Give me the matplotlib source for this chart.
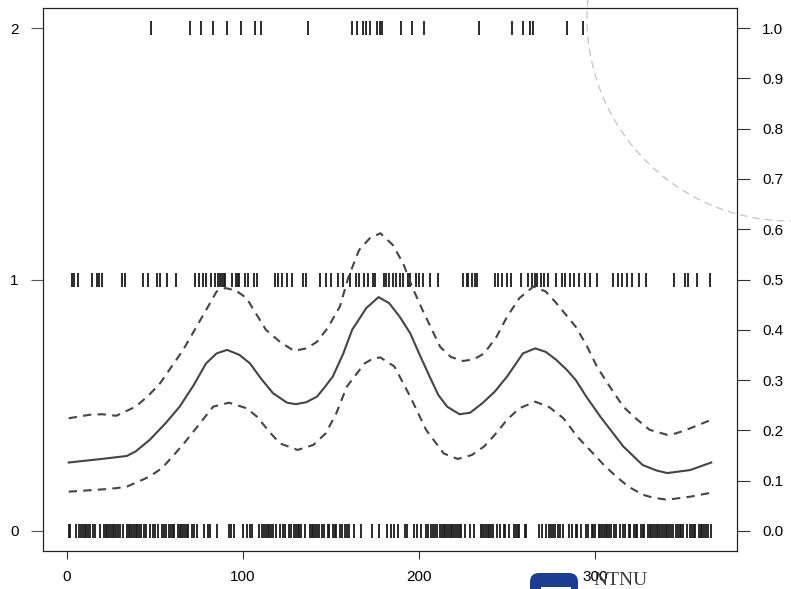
import numpy as np
import matplotlib.pyplot as plt
from matplotlib.patches import Circle, FancyBboxPatch, Rectangle
from matplotlib.transforms import IdentityTransform

plt.rcParams['font.family'] = ['Liberation Sans', 'DejaVu Sans']

# days (1..366) with 0, 1 or 2 rainy years
zero_days = [1, 2, 5, 7, 8, 9, 10, 11, 12, 13, 15, 16, 19, 21, 22, 23, 24, 25, 26, 27,
             28, 29, 30, 32, 34, 35, 36, 37, 38, 39, 40, 41, 42, 44, 45, 47, 49, 50, 52,
             54, 55, 56, 58, 59, 60, 61, 63, 64, 65, 66, 67, 68, 69, 71, 72, 74, 78, 80,
             81, 85, 92, 93, 95, 100, 102, 104, 105, 109, 111, 112, 113, 114, 115, 116,
             117, 119, 121, 123, 124, 126, 127, 129, 130, 131, 132, 133, 135, 138, 139,
             140, 141, 142, 143, 145, 146, 148, 149, 151, 152, 153, 155, 156, 158, 159,
             160, 163, 167, 173, 177, 182, 184, 186, 188, 192, 193, 197, 199, 201, 204,
             205, 207, 208, 209, 210, 212, 213, 214, 215, 216, 217, 218, 219, 220, 221,
             222, 223, 224, 226, 229, 231, 235, 236, 237, 238, 239, 240, 241, 242, 244,
             246, 248, 249, 251, 254, 255, 256, 257, 260, 261, 268, 270, 272, 274, 275,
             276, 277, 279, 280, 282, 285, 287, 289, 290, 292, 295, 296, 298, 299, 300,
             302, 303, 304, 305, 306, 307, 308, 309, 311, 312, 314, 316, 317, 319, 320,
             322, 323, 324, 326, 327, 328, 330, 331, 332, 333, 334, 335, 336, 337, 338,
             339, 340, 341, 342, 343, 344, 346, 347, 348, 349, 350, 352, 354, 355, 356,
             357, 359, 360, 361, 362, 363, 364, 366]
one_days = [3, 4, 6, 14, 17, 18, 20, 31, 33, 43, 46, 51, 53, 57, 62, 73, 75, 77, 79, 82,
            84, 86, 87, 88, 89, 90, 94, 96, 97, 98, 101, 103, 106, 108, 118, 120, 122,
            125, 128, 134, 136, 144, 147, 150, 154, 157, 161, 164, 166, 169, 171, 174,
            175, 180, 181, 183, 185, 187, 189, 191, 194, 195, 198, 200, 202, 206, 211,
            225, 227, 228, 230, 232, 233, 243, 245, 247, 250, 252, 258, 262, 264, 266,
            267, 269, 271, 273, 278, 281, 283, 286, 288, 291, 294, 297, 301, 310, 313,
            315, 318, 321, 325, 329, 345, 351, 353, 358, 365]
two_days = [48, 70, 76, 83, 91, 99, 107, 110, 137, 162, 165, 168, 170, 172, 176, 178,
            179, 190, 196, 203, 234, 253, 259, 263, 265, 284, 293]

# fitted probability and band
fit_days = [1, 22, 34, 39, 47, 56, 64, 72, 79, 85, 91, 98, 104, 110, 117, 125, 130, 136,
            142, 146, 151, 157, 162, 170, 177, 183, 189, 195, 200, 206, 211, 216, 223,
            229, 236, 243, 250, 259, 266, 272, 278, 284, 289, 295, 303, 316, 327, 335,
            341, 354, 366]
fit = [0.136, 0.144, 0.149, 0.158, 0.181, 0.214, 0.247, 0.290, 0.333, 0.353, 0.360,
       0.350, 0.333, 0.304, 0.274, 0.255, 0.252, 0.256, 0.267, 0.284, 0.307, 0.353,
       0.400, 0.443, 0.465, 0.453, 0.426, 0.393, 0.353, 0.307, 0.270, 0.247, 0.232,
       0.235, 0.254, 0.277, 0.307, 0.353, 0.363, 0.356, 0.340, 0.320, 0.300, 0.267,
       0.227, 0.168, 0.131, 0.120, 0.115, 0.121, 0.136]

upper_days = [1, 13, 20, 28, 39, 46, 53, 66, 79, 85, 90, 96, 102, 113, 121, 129, 136,
              142, 148, 155, 160, 166, 172, 178, 185, 191, 196, 202, 212, 218, 225, 231,
              237, 244, 250, 257, 265, 272, 278, 289, 295, 301, 307, 316, 324, 331, 341,
              346, 354, 366]
upper = [0.224, 0.231, 0.232, 0.229, 0.247, 0.268, 0.294, 0.360, 0.439, 0.476, 0.483,
         0.478, 0.463, 0.400, 0.376, 0.358, 0.363, 0.376, 0.403, 0.446, 0.506, 0.559,
         0.582, 0.592, 0.569, 0.532, 0.486, 0.439, 0.366, 0.346, 0.338, 0.341, 0.353,
         0.386, 0.426, 0.463, 0.486, 0.476, 0.453, 0.406, 0.370, 0.327, 0.294, 0.247,
         0.221, 0.201, 0.191, 0.194, 0.204, 0.221]

lower_days = [1, 22, 28, 34, 47, 54, 60, 66, 74, 83, 92, 102, 108, 115, 121, 131, 140,
              147, 153, 159, 169, 174, 178, 186, 195, 204, 214, 222, 230, 237, 243, 250,
              257, 266, 274, 282, 290, 297, 305, 312, 319, 327, 333, 341, 354, 366]
lower = [0.078, 0.083, 0.085, 0.088, 0.108, 0.125, 0.148, 0.172, 0.207, 0.247, 0.255,
         0.244, 0.227, 0.197, 0.174, 0.161, 0.171, 0.194, 0.234, 0.287, 0.333, 0.343,
         0.345, 0.327, 0.267, 0.201, 0.154, 0.143, 0.151, 0.168, 0.191, 0.221, 0.244,
         0.257, 0.246, 0.224, 0.187, 0.161, 0.131, 0.108, 0.088, 0.072, 0.066, 0.062,
         0.068, 0.076]

left_ticks = [0, 1, 2]
right_ticks = [0.0, 0.1, 0.2, 0.3, 0.4, 0.5, 0.6, 0.7, 0.8, 0.9, 1.0]
x_ticks = [0, 100, 200, 300]

W, H = 791, 589
fig = plt.figure(figsize=(W / 100, H / 100), dpi=100)
ax = fig.add_axes([43 / W, 1 - 551 / H, (737 - 43) / W, (551 - 8) / H])
ax.set_xlim(-13.6, 380.6)
ax.set_ylim(-0.08, 2.08)

rug_col = '#1a1a1a'
for days, level in [(zero_days, 0), (one_days, 1), (two_days, 2)]:
    ax.plot(days, [level] * len(days), ls='none', marker='|', ms=10, mew=1.3,
            color=rug_col)

ax2 = ax.twinx()
ax2.set_ylim(-0.04, 1.04)
line_col = '#454545'
ax2.plot(fit_days, fit, color=line_col, lw=1.5)
ax2.plot(upper_days, upper, color=line_col, lw=1.5, dashes=(4, 3))
ax2.plot(lower_days, lower, color=line_col, lw=1.5, dashes=(4, 3))

ax.set_xticks(x_ticks)
ax.set_xticklabels([str(t) for t in x_ticks])
ax.set_yticks(left_ticks)
ax.set_yticklabels([str(t) for t in left_ticks])
ax2.set_yticks(right_ticks)
ax2.set_yticklabels(['%.1f' % t for t in right_ticks])

ax.tick_params(axis='x', length=6, width=0.8, pad=8, labelsize=11, color='#333333')
ax.tick_params(axis='y', length=8.5, width=0.8, pad=9, labelsize=11, color='#555555')
ax2.tick_params(axis='y', length=9, width=0.8, pad=9, labelsize=11, color='#333333')
for a in (ax, ax2):
    for s in a.spines.values():
        s.set_linewidth(0.8)
        s.set_color('#222222')

# slide decorations: dashed arc and NTNU logo
arc = Circle((790, H - 18), 203, transform=IdentityTransform(), fill=False,
             ec='#c4c4c4', lw=0.9, ls=(0, (6, 4)))
fig.add_artist(arc)
logo = FancyBboxPatch((530, -20), 48, 36, boxstyle='round,pad=0,rounding_size=9',
                      transform=IdentityTransform(), fc='#1b3d92', ec='none')
fig.add_artist(logo)
fig.add_artist(Rectangle((541, -10), 30, 12.5, transform=IdentityTransform(),
                         fc='white', ec='none'))
fig.text(593 / W, 4 / H, 'NTNU', fontsize=14, family=['Liberation Serif', 'DejaVu Serif'],
         color='#3a3a3a', va='baseline')

fig.savefig('out.png', dpi=100)
